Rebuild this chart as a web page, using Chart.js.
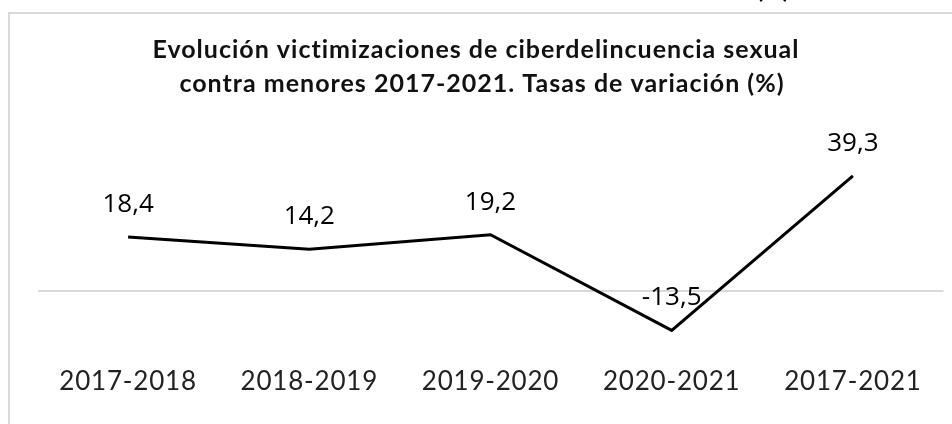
<!DOCTYPE html>
<html>
<head>
<meta charset="utf-8">
<script src="https://cdn.jsdelivr.net/npm/chart.js@4.4.1/dist/chart.umd.min.js"></script>
<style>
html,body{margin:0;padding:0;background:#fff;}
#wrap{width:952px;height:424px;position:relative;}
</style>
</head>
<body>
<div id="wrap"><canvas id="c" width="952" height="424"></canvas></div>
<script>
const categories = ['2017-2018', '2018-2019', '2019-2020', '2020-2021', '2017-2021'];
const values = [18.4, 14.2, 19.2, -13.5, 39.3];
const valueLabels = ['18,4', '14,2', '19,2', '-13,5', '39,3'];
const titleLines = ['Evolución victimizaciones de ciberdelincuencia sexual', 'contra menores 2017-2021. Tasas de variación (%)'];

const decor = {
  id: 'decor',
  beforeDraw(chart) {
    const ctx = chart.ctx;
    ctx.save();
    ctx.fillStyle = '#fff';
    ctx.fillRect(0, 0, chart.width, chart.height);
    // frame
    ctx.strokeStyle = '#d9d9d9';
    ctx.lineWidth = 2;
    ctx.beginPath();
    ctx.moveTo(9, 440);
    ctx.lineTo(9, 13);
    ctx.lineTo(960, 13);
    ctx.stroke();
    // cut-off text above
    ctx.fillStyle = '#000';
    ctx.font = 'bold 24px Lato';
    ctx.textAlign = 'center';
    ctx.textBaseline = 'alphabetic';
    ctx.fillText('(%)', 773, -2);
    // title
    ctx.font = 'bold 25px Lato';
    ctx.letterSpacing = '1px';
    ctx.fillStyle = '#111';
    ctx.fillText(titleLines[0], 476, 58);
    ctx.fillText(titleLines[1], 482, 92);
    ctx.restore();
    ctx.letterSpacing = '0.8px';
  },
  beforeDatasetsDraw(chart) {
    chart.ctx.letterSpacing = '0px';
  },
  afterDatasetsDraw(chart) {
    const ctx = chart.ctx;
    const meta = chart.getDatasetMeta(0);
    ctx.save();
    ctx.letterSpacing = '0px';
    ctx.fillStyle = '#000';
    ctx.font = '26px "Open Sans"';
    ctx.textAlign = 'center';
    ctx.textBaseline = 'alphabetic';
    meta.data.forEach((pt, i) => {
      ctx.fillText(valueLabels[i], pt.x, pt.y - 25);
    });
    ctx.restore();
  }
};

new Chart(document.getElementById('c'), {
  type: 'line',
  data: {
    labels: categories,
    datasets: [{
      data: values,
      borderColor: '#000',
      borderWidth: 3,
      pointRadius: 0,
      tension: 0,
      fill: false
    }]
  },
  options: {
    responsive: false,
    animation: false,
    devicePixelRatio: 1,
    layout: { padding: { top: 144.5, bottom: 9.4, left: 37.5, right: 8.5 } },
    plugins: { legend: { display: false }, title: { display: false }, tooltip: { enabled: false } },
    scales: {
      x: {
        offset: true,
        grid: { display: false, drawTicks: false },
        border: { display: false },
        ticks: { color: '#222', padding: 17, font: { family: 'Lato', size: 26 }, maxRotation: 0 }
      },
      y: {
        min: -20,
        max: 50,
        grid: {
          drawTicks: false,
          lineWidth: 2,
          color: (c) => c.tick && c.tick.value === 0 ? '#d9d9d9' : 'rgba(0,0,0,0)'
        },
        border: { display: false },
        ticks: { display: false, stepSize: 10 }
      }
    }
  },
  plugins: [decor]
});
</script>
</body>
</html>
